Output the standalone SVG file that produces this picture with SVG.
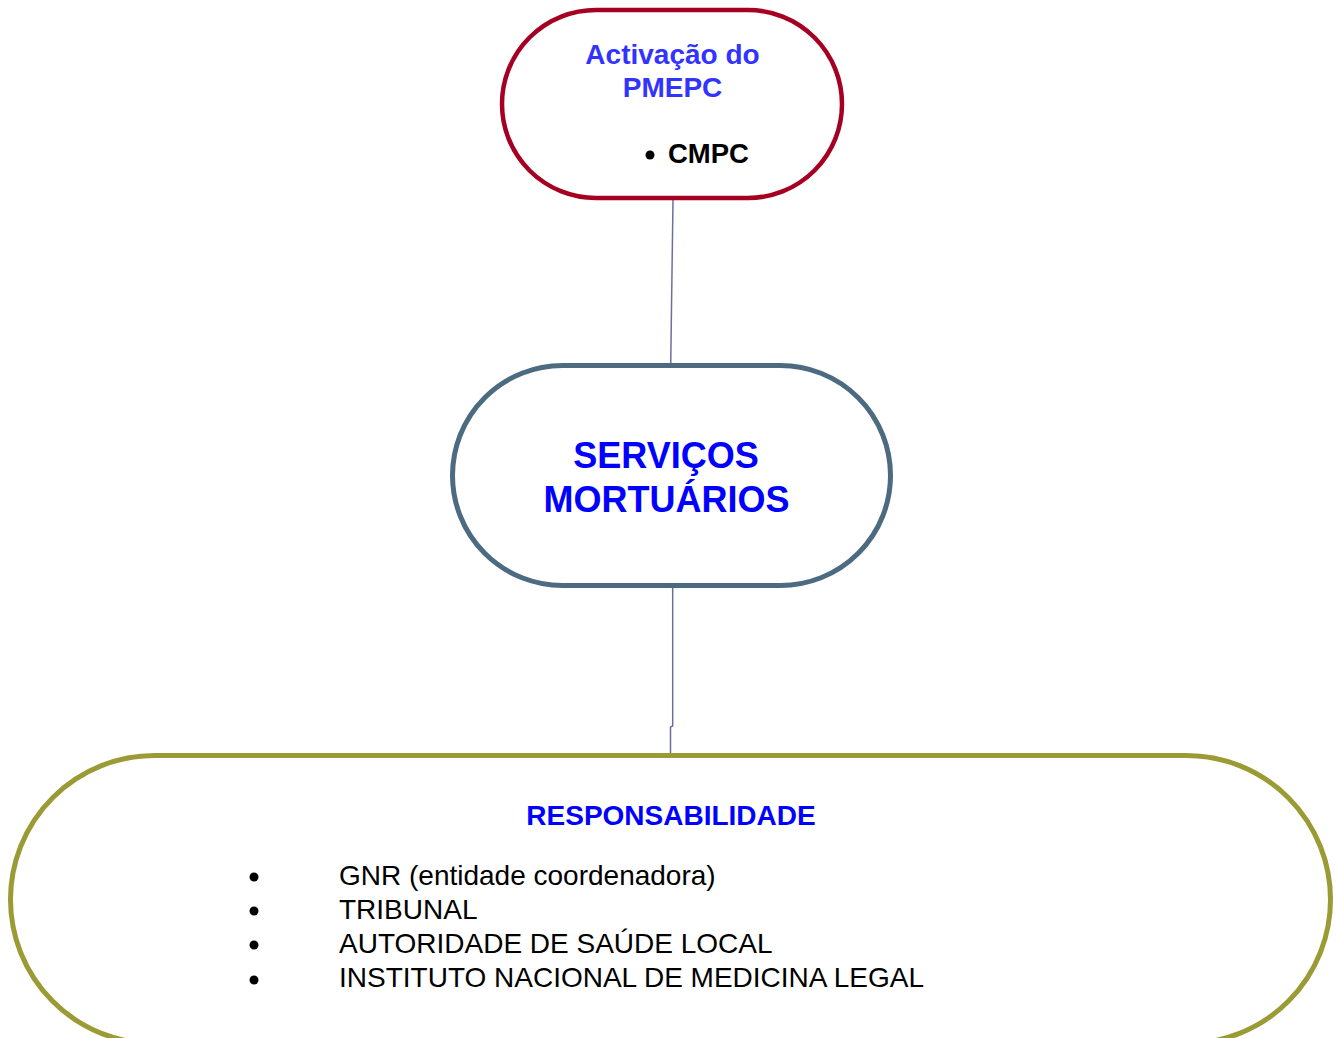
<svg xmlns="http://www.w3.org/2000/svg" width="1336" height="1038" viewBox="0 0 1336 1038">
  <style>
    .node { fill: #ffffff; }
    .t { font-family: "Liberation Sans", Arial, sans-serif; }
    .b { font-weight: bold; }
    .conn { fill: none; stroke: #6E6E9E; stroke-width: 1.5; }
  </style>
  <rect width="1336" height="1038" fill="#ffffff"/>

  <!-- connectors -->
  <g id="connectors">
    <path class="conn" d="M673,200 L670.7,365"/>
    <path class="conn" d="M672.7,588 L672.7,726 L670.5,727 L670.5,755"/>
  </g>

  <!-- activation node -->
  <g id="node-activacao">
    <rect class="node" x="502" y="10" width="340" height="188" rx="94" ry="94" stroke="#A50021" stroke-width="4.5"/>
    <text class="t b" x="672.5" y="64" font-size="28" fill="#3333FF" text-anchor="middle">Activação do</text>
    <text class="t b" x="672.5" y="97" font-size="28" fill="#3333FF" text-anchor="middle">PMEPC</text>
    <circle cx="650" cy="155" r="4.5" fill="#000000"/>
    <text class="t b" x="668" y="163" font-size="27.5" fill="#000000">CMPC</text>
  </g>

  <!-- mortuary services node -->
  <g id="node-servicos">
    <rect class="node" x="452.5" y="365.5" width="438" height="220" rx="110" ry="110" stroke="#4D6B80" stroke-width="5"/>
    <text class="t b" x="666" y="468" font-size="36" fill="#0000FF" text-anchor="middle">SERVIÇOS</text>
    <text class="t b" x="666.5" y="512" font-size="36" fill="#0000FF" text-anchor="middle">MORTUÁRIOS</text>
  </g>

  <!-- responsibility node -->
  <g id="node-responsabilidade">
    <rect class="node" x="10.5" y="755.5" width="1320" height="288" rx="144" ry="144" stroke="#9B9B36" stroke-width="5"/>
    <text class="t b" x="671" y="825" font-size="28" fill="#0000FF" text-anchor="middle">RESPONSABILIDADE</text>
    <g fill="#000000">
      <circle cx="254" cy="877" r="4.5"/>
      <circle cx="254" cy="911" r="4.5"/>
      <circle cx="254" cy="945" r="4.5"/>
      <circle cx="254" cy="980" r="4.5"/>
    </g>
    <g class="t" font-size="28" fill="#000000">
      <text x="339" y="885">GNR (entidade coordenadora)</text>
      <text x="339" y="919">TRIBUNAL</text>
      <text x="339" y="953">AUTORIDADE DE SAÚDE LOCAL</text>
      <text x="339" y="987">INSTITUTO NACIONAL DE MEDICINA LEGAL</text>
    </g>
  </g>
</svg>
